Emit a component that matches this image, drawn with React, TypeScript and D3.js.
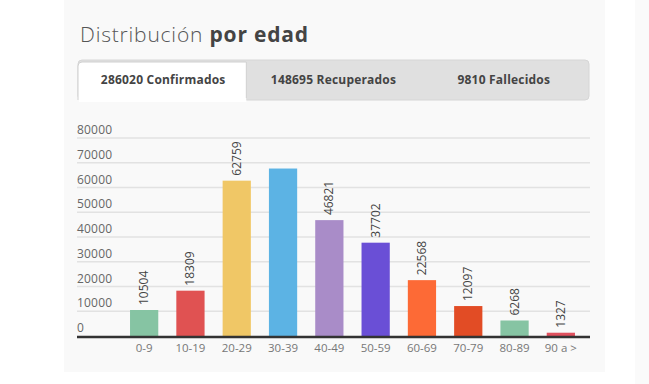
import * as d3 from "d3";

const categories = ["0-9", "10-19", "20-29", "30-39", "40-49", "50-59", "60-69", "70-79", "80-89", "90 a >"];
const values = [10504, 18309, 62759, 67665, 46821, 37702, 22568, 12097, 6268, 1327];
const colors = ["#86c4a3", "#e05252", "#f0c766", "#5cb3e4", "#a98cc8", "#6a4fd6", "#fd6a36", "#e24c25", "#86c4a3", "#e0505e"];
const showLabel = [true, true, true, false, true, true, true, true, true, true];
const yTicks = [0, 10000, 20000, 30000, 40000, 50000, 60000, 70000, 80000];
const tabs = ["286020 Confirmados", "148695 Recuperados", "9810 Fallecidos"];

const W = 649;
const H = 384;
const font = "'Open Sans', sans-serif";

export default function App() {
  const x = d3.scaleBand<string>().domain(categories).range([121, 584]).paddingInner(0.39).paddingOuter(0.195);
  const y = d3.scaleLinear().domain([0, 80000]).range([336, 138]);

  const tabX = d3.scaleBand<string>().domain(tabs).range([78, 589]);
  const t0 = tabX(tabs[0]) as number;

  return (
    <div style={{ position: "absolute", left: 0, top: 0 }}>
      <svg width={W} height={H} style={{ display: "block" }}>
        <rect x={0} y={0} width={W} height={H} fill="#ffffff" />
        <rect x={64} y={0} width={541} height={372} fill="#f9f9f9" />
        <rect x={635} y={0} width={14} height={H} fill="#fafafa" />

        <text x={80} y={42} fontFamily={font} fontSize={21} fontWeight={300} fill="#555" letterSpacing={0.8}>
          Distribución <tspan fontWeight={700} fill="#444">por edad</tspan>
        </text>

        {/* tabs */}
        <rect x={78} y={60} width={511} height={40} rx={4} fill="#e0e0e0" stroke="#d6d6d6" />
        <path
          d={`M${t0},100 V66 Q${t0},62 ${t0 + 4},62 H${t0 + tabX.bandwidth() - 2} V100`}
          fill="#ffffff"
          stroke="#d0d0d0"
        />
        <rect x={t0 + 1} y={98} width={tabX.bandwidth() - 3} height={4} fill="#ffffff" />
        {tabs.map((t) => (
          <text
            key={t}
            x={(tabX(t) as number) + tabX.bandwidth() / 2}
            y={84}
            textAnchor="middle"
            fontFamily={font}
            fontSize={12}
            fontWeight={700}
            fill="#444"
            letterSpacing={0.2}
          >
            {t}
          </text>
        ))}

        {/* grid */}
        {yTicks.map((t) => (
          <g key={t}>
            {t > 0 && <line x1={77} x2={590} y1={y(t)} y2={y(t)} stroke="#e2e2e2" strokeWidth={1.5} />}
            <text x={77} y={y(t) - 4} fontFamily={font} fontSize={12} fill="#666" letterSpacing={0.2}>
              {t}
            </text>
          </g>
        ))}

        {/* bars */}
        {categories.map((c, i) => (
          <g key={c}>
            <rect x={x(c)} y={y(values[i])} width={x.bandwidth()} height={y(0) - y(values[i])} fill={colors[i]} />
            {showLabel[i] && (
              <text
                transform={`translate(${(x(c) as number) + x.bandwidth() / 2 + 4},${y(values[i]) - 5}) rotate(-90)`}
                fontFamily={font}
                fontSize={12}
                fill="#444"
              >
                {values[i]}
              </text>
            )}
            <text
              x={(x(c) as number) + x.bandwidth() / 2}
              y={352}
              textAnchor="middle"
              fontFamily={font}
              fontSize={11.5}
              fill="#777"
            >
              {c}
            </text>
          </g>
        ))}

        <line x1={77} x2={590} y1={y(0) + 1} y2={y(0) + 1} stroke="#333" strokeWidth={2.5} />
      </svg>
    </div>
  );
}
